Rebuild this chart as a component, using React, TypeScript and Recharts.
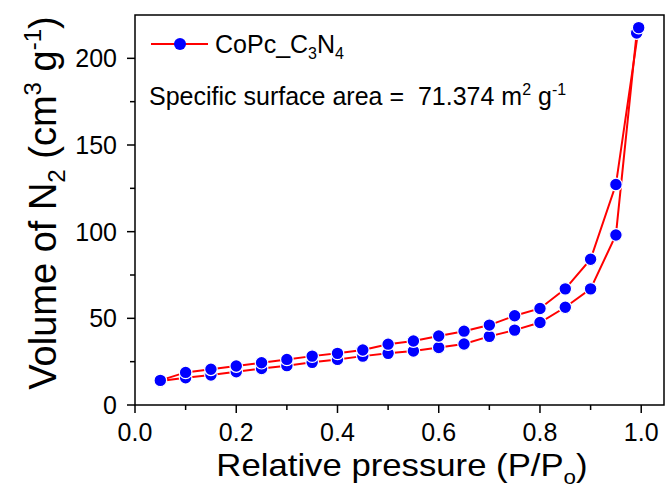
import React from "react";
import { LineChart, Line, XAxis, YAxis, ReferenceArea, Customized } from "recharts";

// ---- data ----
const adsorptionP = [0.05, 0.1, 0.15, 0.2, 0.25, 0.3, 0.35, 0.4, 0.45, 0.5, 0.55, 0.6, 0.65, 0.7, 0.75, 0.8, 0.85, 0.9, 0.95, 0.991];
const adsorptionV = [13.8, 15.7, 17.3, 19.2, 21.1, 22.7, 24.6, 26.3, 28.2, 29.8, 31.1, 33.2, 35.2, 39.6, 43.2, 47.6, 56.4, 67.0, 98.1, 214.6];
const desorptionP = [0.995, 0.95, 0.9, 0.85, 0.8, 0.75, 0.7, 0.65, 0.6, 0.55, 0.5, 0.45, 0.4, 0.35, 0.3, 0.25, 0.2, 0.15, 0.1, 0.05];
const desorptionV = [217.7, 127.2, 84.1, 67.0, 55.7, 51.5, 46.1, 42.6, 39.8, 36.9, 35.1, 31.7, 29.8, 28.2, 26.3, 24.4, 22.5, 20.6, 18.8, 14.2];

const xTicks = [0, 0.1, 0.2, 0.3, 0.4, 0.5, 0.6, 0.7, 0.8, 0.9, 1.0];
const yTicks = [0, 25, 50, 75, 100, 125, 150, 175, 200];
const xDomain = [0, 1.045];
const yDomain = [0, 225];

const seriesName = "CoPc_C3N4";
const areaText = "Specific surface area =  71.374 m";

const adsorption = adsorptionP.map((p, i) => ({ p, v: adsorptionV[i] }));
const desorption = desorptionP.map((p, i) => ({ p, v: desorptionV[i] }));

const FONT = "'Liberation Sans', Arial, sans-serif";
const W = 668;
const H = 495;
const M = { top: 15, right: 4, bottom: 0, left: 0 };
const Y_AXIS_W = 135;
const X_AXIS_H = 90;
const PLOT_LEFT = M.left + Y_AXIS_W;
const PLOT_BOTTOM = H - X_AXIS_H;

const XTick = (props: any) => {
  const { x, payload } = props;
  const v = payload.value;
  const major = Math.round(v * 10) % 2 === 0;
  return (
    <g>
      <line x1={x} x2={x} y1={PLOT_BOTTOM} y2={PLOT_BOTTOM + (major ? 8 : 5)} stroke="#000" strokeWidth={1.5} />
      {major && (
        <text x={x} y={PLOT_BOTTOM + 36} textAnchor="middle" fontSize={25} fontFamily={FONT} fill="#000">
          {v.toFixed(1)}
        </text>
      )}
    </g>
  );
};

const YTick = (props: any) => {
  const { y, payload } = props;
  const v = payload.value;
  const major = v % 50 === 0;
  return (
    <g>
      <line x1={PLOT_LEFT} x2={PLOT_LEFT - (major ? 8 : 5)} y1={y} y2={y} stroke="#000" strokeWidth={1.5} />
      {major && (
        <text x={PLOT_LEFT - 18} y={y} dy="0.36em" textAnchor="end" fontSize={25} fontFamily={FONT} fill="#000">
          {v}
        </text>
      )}
    </g>
  );
};

const XTitle = () => (
  <text
    transform="translate(402,476) scale(1.12,1)"
    x={0}
    y={0}
    textAnchor="middle"
    fontSize={31}
    fontFamily={FONT}
    fill="#000"
  >
    <tspan>Relative pressure (P/P</tspan>
    <tspan dy={8} fontSize={20}>o</tspan>
    <tspan dy={-8}>)</tspan>
  </text>
);

const YTitle = () => (
  <text
    transform="translate(56,203) rotate(-90)"
    x={0}
    y={0}
    textAnchor="middle"
    fontSize={38}
    fontFamily={FONT}
    fill="#000"
  >
    <tspan>Volume of N</tspan>
    <tspan dy={9} fontSize={24}>2</tspan>
    <tspan dy={-9}> (cm</tspan>
    <tspan dy={-15} fontSize={24}>3</tspan>
    <tspan dy={15}> g</tspan>
    <tspan dy={-15} fontSize={24}>-1</tspan>
    <tspan dy={15}>)</tspan>
  </text>
);

const Overlay = () => (
  <g fontFamily={FONT} fill="#000">
    <line x1={151} x2={208} y1={44} y2={44} stroke="#ff0000" strokeWidth={2} />
    <circle cx={180} cy={44} r={6} fill="#0000ff" />
    <text x={215} y={53} fontSize={25}>
      <tspan>CoPc_C</tspan>
      <tspan dy={6} fontSize={16}>3</tspan>
      <tspan dy={-6}>N</tspan>
      <tspan dy={6} fontSize={16}>4</tspan>
    </text>
    <text x={149} y={105} fontSize={25} style={{ whiteSpace: "pre" }}>
      <tspan>{areaText}</tspan>
      <tspan dy={-10} fontSize={16}>2</tspan>
      <tspan dy={10}> g</tspan>
      <tspan dy={-10} fontSize={16}>-1</tspan>
    </text>
  </g>
);

const dotStyle = { r: 6.3, fill: "#0000ff", stroke: "#ffffff", strokeWidth: 1.2 };

export default function App() {
  return (
    <div style={{ position: "absolute", left: 0, top: 0, width: W, height: H, background: "#fff" }}>
      <LineChart width={W} height={H} margin={M}>
        <XAxis
          dataKey="p"
          type="number"
          domain={xDomain}
          ticks={xTicks}
          interval={0}
          allowDataOverflow
          axisLine={false}
          tickLine={false}
          tick={<XTick />}
          height={X_AXIS_H}
          label={<XTitle />}
        />
        <YAxis
          dataKey="v"
          type="number"
          domain={yDomain}
          ticks={yTicks}
          interval={0}
          allowDataOverflow
          axisLine={false}
          tickLine={false}
          tick={<YTick />}
          width={Y_AXIS_W}
          label={<YTitle />}
        />
        <ReferenceArea
          x1={xDomain[0]}
          x2={xDomain[1]}
          y1={yDomain[0]}
          y2={yDomain[1]}
          fill="none"
          fillOpacity={0}
          stroke="#000"
          strokeWidth={1.5}
          ifOverflow="extendDomain"
        />
        <Line
          data={adsorption}
          dataKey="v"
          name={seriesName}
          stroke="#ff0000"
          strokeWidth={2}
          dot={dotStyle}
          activeDot={false}
          isAnimationActive={false}
        />
        <Line
          data={desorption}
          dataKey="v"
          name={seriesName}
          stroke="#ff0000"
          strokeWidth={2}
          dot={dotStyle}
          activeDot={false}
          isAnimationActive={false}
        />
        <Customized component={<Overlay />} />
      </LineChart>
    </div>
  );
}
